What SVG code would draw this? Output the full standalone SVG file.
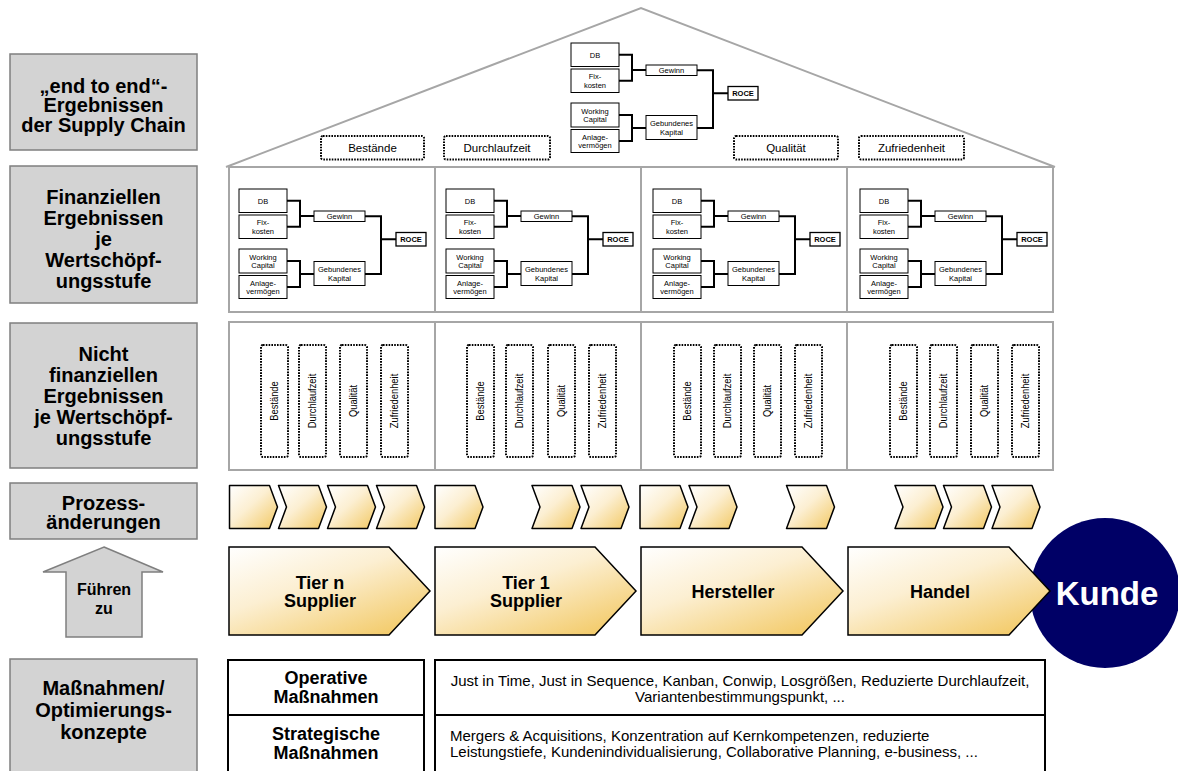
<svg xmlns="http://www.w3.org/2000/svg" xmlns:xlink="http://www.w3.org/1999/xlink" width="1178" height="771" viewBox="0 0 1178 771">
  <style>
    .lbl { fill:#d3d3d3; stroke:#7f7f7f; stroke-width:1.5; }
    .lt { font-family:"Liberation Sans", Arial, sans-serif; font-weight:bold; font-size:20px; text-anchor:middle; fill:#000; }
    .panel { fill:#fff; stroke:#a6a6a6; stroke-width:2; }
    .roof { fill:none; stroke:#a6a6a6; stroke-width:2; }
    .bx { fill:#fff; stroke:#000; stroke-width:1; }
    .tt { font-family:"Liberation Sans", Arial, sans-serif; font-size:7.5px; text-anchor:middle; fill:#000; }
    .ttb { font-weight:bold; }
    .wire { fill:none; stroke:#000; stroke-width:2; }
    .dot { fill:#fff; stroke:#000; stroke-width:2; stroke-dasharray:1.6 1.2; }
    .dt { font-family:"Liberation Sans", Arial, sans-serif; font-size:11.5px; text-anchor:middle; fill:#000; }
    .vt { font-family:"Liberation Sans", Arial, sans-serif; font-size:11px; text-anchor:middle; fill:#000; }
    .chev { fill:url(#gold); stroke:#000; stroke-width:1.5; stroke-linejoin:round; }
    .big { fill:url(#gold2); stroke:#000; stroke-width:1.5; }
    .bt { font-family:"Liberation Sans", Arial, sans-serif; font-weight:bold; font-size:18px; text-anchor:middle; fill:#000; }
    .tbl { fill:#fff; stroke:#000; stroke-width:2; }
    .nt { font-family:"Liberation Sans", Arial, sans-serif; font-size:15px; fill:#000; }
  </style>
  <defs>
    <linearGradient id="gold" x1="0" y1="0" x2="1" y2="1">
      <stop offset="0" stop-color="#ffffff"/>
      <stop offset="0.45" stop-color="#fcefd2"/>
      <stop offset="1" stop-color="#f2c862"/>
    </linearGradient>
    <linearGradient id="gold2" x1="0" y1="0" x2="0.8" y2="1">
      <stop offset="0" stop-color="#ffffff"/>
      <stop offset="0.45" stop-color="#fcefd2"/>
      <stop offset="1" stop-color="#f3cb6a"/>
    </linearGradient>
    <!-- ROCE tree: DB / Fixkosten -> Gewinn, Working Capital / Anlagevermoegen -> Gebundenes Kapital -> ROCE -->
    <g id="tree">
      <path class="wire" d="M48,11.75 H61 V37.75 H48 M61,27 H75 M48,72 H61 V98 H48 M61,85 H75 M126,27.25 H142 V85 H126 M142,50.25 H157"/>
      <rect class="bx" x="0" y="0" width="48" height="23.5"/>
      <rect class="bx" x="0" y="26" width="48" height="23.5"/>
      <rect class="bx" x="75" y="22" width="51" height="10.5"/>
      <rect class="bx" x="0" y="60" width="48" height="24"/>
      <rect class="bx" x="0" y="86.5" width="48" height="23"/>
      <rect class="bx" x="75" y="72.5" width="51" height="24"/>
      <rect class="bx" x="157" y="43.5" width="30" height="13.5" style="stroke-width:1.3"/>
      <text class="tt" x="24" y="14.5">DB</text>
      <text class="tt" x="24" y="36.2">Fix-</text>
      <text class="tt" x="24" y="44.7">kosten</text>
      <text class="tt" x="100.5" y="30">Gewinn</text>
      <text class="tt" x="24" y="70.5">Working</text>
      <text class="tt" x="24" y="79">Capital</text>
      <text class="tt" x="24" y="96.5">Anlage-</text>
      <text class="tt" x="24" y="105">vermögen</text>
      <text class="tt" x="100.5" y="83">Gebundenes</text>
      <text class="tt" x="100.5" y="91.5">Kapital</text>
      <text class="tt ttb" x="172" y="53">ROCE</text>
    </g>
    <polygon id="chv" points="0,0 40,0 48,21.5 40,43 0,43 8,21.5"/>
    <polygon id="pnt" points="0,0 40,0 48,21.5 40,43 0,43"/>
  </defs>

  <!-- left column of grey category labels -->
  <g id="label-end-to-end">
    <rect class="lbl" x="10" y="54" width="187" height="96"/>
    <text class="lt" x="103.5" y="92.5">„end to end“-</text>
    <text class="lt" x="103.5" y="112">Ergebnissen</text>
    <text class="lt" x="103.5" y="131.5">der Supply Chain</text>
  </g>
  <g id="label-finanziell">
    <rect class="lbl" x="10" y="166" width="187" height="137"/>
    <text class="lt" x="103.5" y="204">Finanziellen</text>
    <text class="lt" x="103.5" y="225">Ergebnissen</text>
    <text class="lt" x="103.5" y="246">je</text>
    <text class="lt" x="103.5" y="267">Wertschöpf-</text>
    <text class="lt" x="103.5" y="288">ungsstufe</text>
  </g>
  <g id="label-nicht-finanziell">
    <rect class="lbl" x="10" y="323" width="187" height="145"/>
    <text class="lt" x="103.5" y="360.5">Nicht</text>
    <text class="lt" x="103.5" y="381.5">finanziellen</text>
    <text class="lt" x="103.5" y="402.5">Ergebnissen</text>
    <text class="lt" x="103.5" y="423.5">je Wertschöpf-</text>
    <text class="lt" x="103.5" y="444.5">ungsstufe</text>
  </g>
  <g id="label-prozess">
    <rect class="lbl" x="10" y="483" width="187" height="56"/>
    <text class="lt" x="103.5" y="510">Prozess-</text>
    <text class="lt" x="103.5" y="529">änderungen</text>
  </g>
  <g id="arrow-fuehren-zu">
    <polygon class="lbl" points="104,547 163,572 142,572 142,637 66,637 66,572 43,572"/>
    <text class="lt" x="104" y="595" style="font-size:16px">Führen</text>
    <text class="lt" x="104" y="614" style="font-size:16px">zu</text>
  </g>
  <g id="label-massnahmen">
    <rect class="lbl" x="10" y="659" width="187" height="120"/>
    <text class="lt" x="103.5" y="695">Maßnahmen/</text>
    <text class="lt" x="103.5" y="717">Optimierungs-</text>
    <text class="lt" x="103.5" y="739">konzepte</text>
  </g>

  <!-- roof: end-to-end results of the supply chain -->
  <g id="roof">
    <polyline class="roof" points="226,167 641,8 1055,167"/>
    <use xlink:href="#tree" href="#tree" transform="translate(571,43)"/>
    <rect class="dot" x="321" y="136" width="103" height="23.5" rx="2"/>
    <text class="dt" x="372.5" y="152">Bestände</text>
    <rect class="dot" x="444" y="136" width="106" height="23.5" rx="2"/>
    <text class="dt" x="497" y="152">Durchlaufzeit</text>
    <rect class="dot" x="734" y="136" width="104" height="23.5" rx="2"/>
    <text class="dt" x="786" y="152">Qualität</text>
    <rect class="dot" x="859" y="136" width="105" height="23.5" rx="2"/>
    <text class="dt" x="911.5" y="152">Zufriedenheit</text>
  </g>

  <!-- financial results per value-adding stage -->
  <g id="finanz-panels">
    <rect class="panel" x="229" y="167" width="206" height="145"/>
    <rect class="panel" x="435" y="167" width="206" height="145"/>
    <rect class="panel" x="641" y="167" width="206" height="145"/>
    <rect class="panel" x="847" y="167" width="206" height="145"/>
    <use xlink:href="#tree" href="#tree" transform="translate(239,189)"/>
    <use xlink:href="#tree" href="#tree" transform="translate(446,189)"/>
    <use xlink:href="#tree" href="#tree" transform="translate(653,189)"/>
    <use xlink:href="#tree" href="#tree" transform="translate(860,189)"/>
  </g>

  <!-- non-financial results per value-adding stage -->
  <g id="nichtfinanz-panels">
    <rect class="panel" x="229" y="322" width="206" height="148"/>
    <rect class="panel" x="435" y="322" width="206" height="148"/>
    <rect class="panel" x="641" y="322" width="206" height="148"/>
    <rect class="panel" x="847" y="322" width="206" height="148"/>
  </g>
  <g id="kennzahlen-stufe-1">
    <rect class="dot" x="261" y="345" width="27" height="112" rx="2"/>
    <rect class="dot" x="299" y="345" width="27" height="112" rx="2"/>
    <rect class="dot" x="340" y="345" width="27" height="112" rx="2"/>
    <rect class="dot" x="381" y="345" width="27" height="112" rx="2"/>
    <text class="vt" transform="translate(278,401) rotate(-90) scale(0.85,1)">Bestände</text>
    <text class="vt" transform="translate(316,401) rotate(-90) scale(0.85,1)">Durchlaufzeit</text>
    <text class="vt" transform="translate(357,401) rotate(-90) scale(0.85,1)">Qualität</text>
    <text class="vt" transform="translate(398,401) rotate(-90) scale(0.85,1)">Zufriedenheit</text>
  </g>
  <g id="kennzahlen-stufe-2">
    <rect class="dot" x="467" y="345" width="27" height="112" rx="2"/>
    <rect class="dot" x="506" y="345" width="27" height="112" rx="2"/>
    <rect class="dot" x="548" y="345" width="27" height="112" rx="2"/>
    <rect class="dot" x="589" y="345" width="27" height="112" rx="2"/>
    <text class="vt" transform="translate(484,401) rotate(-90) scale(0.85,1)">Bestände</text>
    <text class="vt" transform="translate(523,401) rotate(-90) scale(0.85,1)">Durchlaufzeit</text>
    <text class="vt" transform="translate(565,401) rotate(-90) scale(0.85,1)">Qualität</text>
    <text class="vt" transform="translate(606,401) rotate(-90) scale(0.85,1)">Zufriedenheit</text>
  </g>
  <g id="kennzahlen-stufe-3">
    <rect class="dot" x="674" y="345" width="27" height="112" rx="2"/>
    <rect class="dot" x="714" y="345" width="27" height="112" rx="2"/>
    <rect class="dot" x="754" y="345" width="27" height="112" rx="2"/>
    <rect class="dot" x="795" y="345" width="27" height="112" rx="2"/>
    <text class="vt" transform="translate(691,401) rotate(-90) scale(0.85,1)">Bestände</text>
    <text class="vt" transform="translate(731,401) rotate(-90) scale(0.85,1)">Durchlaufzeit</text>
    <text class="vt" transform="translate(771,401) rotate(-90) scale(0.85,1)">Qualität</text>
    <text class="vt" transform="translate(812,401) rotate(-90) scale(0.85,1)">Zufriedenheit</text>
  </g>
  <g id="kennzahlen-stufe-4">
    <rect class="dot" x="890" y="345" width="27" height="112" rx="2"/>
    <rect class="dot" x="930" y="345" width="27" height="112" rx="2"/>
    <rect class="dot" x="971" y="345" width="27" height="112" rx="2"/>
    <rect class="dot" x="1012" y="345" width="27" height="112" rx="2"/>
    <text class="vt" transform="translate(907,401) rotate(-90) scale(0.85,1)">Bestände</text>
    <text class="vt" transform="translate(947,401) rotate(-90) scale(0.85,1)">Durchlaufzeit</text>
    <text class="vt" transform="translate(988,401) rotate(-90) scale(0.85,1)">Qualität</text>
    <text class="vt" transform="translate(1029,401) rotate(-90) scale(0.85,1)">Zufriedenheit</text>
  </g>

  <!-- process changes: small chevrons per stage -->
  <g id="prozess-schritte">
    <use class="chev" xlink:href="#pnt" href="#pnt" transform="translate(229.5,485.5)"/>
    <use class="chev" xlink:href="#chv" href="#chv" transform="translate(278.5,485.5)"/>
    <use class="chev" xlink:href="#chv" href="#chv" transform="translate(327.5,485.5)"/>
    <use class="chev" xlink:href="#chv" href="#chv" transform="translate(376.5,485.5)"/>
    <use class="chev" xlink:href="#pnt" href="#pnt" transform="translate(435,485.5)"/>
    <use class="chev" xlink:href="#chv" href="#chv" transform="translate(532,485.5)"/>
    <use class="chev" xlink:href="#chv" href="#chv" transform="translate(581,485.5)"/>
    <use class="chev" xlink:href="#pnt" href="#pnt" transform="translate(640,485.5)"/>
    <use class="chev" xlink:href="#chv" href="#chv" transform="translate(689,485.5)"/>
    <use class="chev" xlink:href="#chv" href="#chv" transform="translate(786.5,485.5)"/>
    <use class="chev" xlink:href="#chv" href="#chv" transform="translate(895,485.5)"/>
    <use class="chev" xlink:href="#chv" href="#chv" transform="translate(943.5,485.5)"/>
    <use class="chev" xlink:href="#chv" href="#chv" transform="translate(992,485.5)"/>
  </g>

  <!-- supply chain stages -->
  <g id="kunde">
    <circle cx="1105" cy="593" r="75" fill="#000066"/>
    <text x="1107" y="605" style="font-family:'Liberation Sans', Arial, sans-serif; font-weight:bold; font-size:33px; text-anchor:middle; fill:#fff">Kunde</text>
  </g>
  <g id="stufe-tier-n">
    <polygon class="big" points="229,547 389,547 430,591 389,635 229,635"/>
    <text class="bt" x="320" y="589">Tier n</text>
    <text class="bt" x="320" y="607">Supplier</text>
  </g>
  <g id="stufe-tier-1">
    <polygon class="big" points="435,547 595,547 636,591 595,635 435,635"/>
    <text class="bt" x="526" y="589">Tier 1</text>
    <text class="bt" x="526" y="607">Supplier</text>
  </g>
  <g id="stufe-hersteller">
    <polygon class="big" points="641,547 802,547 843,591 802,635 641,635"/>
    <text class="bt" x="733" y="598">Hersteller</text>
  </g>
  <g id="stufe-handel">
    <polygon class="big" points="848,547 1009,547 1050,591 1009,635 848,635"/>
    <text class="bt" x="940" y="598">Handel</text>
  </g>

  <!-- measures table -->
  <g id="massnahmen-tabelle">
    <rect class="tbl" x="228" y="660" width="196" height="120"/>
    <line class="tbl" x1="228" y1="715" x2="424" y2="715"/>
    <rect class="tbl" x="435" y="660" width="610" height="120"/>
    <line class="tbl" x1="435" y1="715" x2="1045" y2="715"/>
    <text class="bt" x="326" y="684">Operative</text>
    <text class="bt" x="326" y="703">Maßnahmen</text>
    <text class="bt" x="326" y="740">Strategische</text>
    <text class="bt" x="326" y="759">Maßnahmen</text>
    <text class="nt" x="740" y="686" text-anchor="middle">Just in Time, Just in Sequence, Kanban, Conwip, Losgrößen, Reduzierte Durchlaufzeit,</text>
    <text class="nt" x="740" y="702" text-anchor="middle">Variantenbestimmungspunkt, ...</text>
    <text class="nt" x="450" y="741">Mergers &amp; Acquisitions, Konzentration auf Kernkompetenzen, reduzierte</text>
    <text class="nt" x="450" y="757">Leistungstiefe, Kundenindividualisierung, Collaborative Planning, e-business, ...</text>
  </g>
</svg>
